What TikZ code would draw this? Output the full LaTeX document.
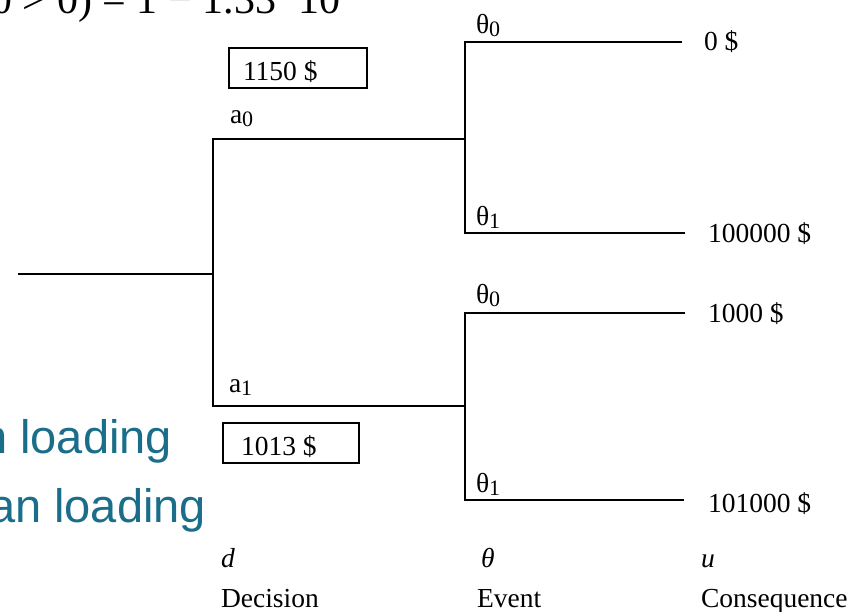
\documentclass[tikz,border=0pt]{standalone}
\usepackage{fontspec}
\setmainfont{Liberation Serif}
\newfontfamily\sansf{Liberation Sans}
\definecolor{tealtxt}{RGB}{26,110,138}
\newcommand\sbs[1]{\raisebox{-0.3ex}{\fontsize{22}{22}\selectfont #1}}
\begin{document}
\begin{tikzpicture}[x=1pt,y=-1pt,line width=2pt,
  lbl/.style={inner sep=0pt,anchor=base west,font=\fontsize{27.5}{30}\selectfont},
  valbox/.style={draw,line width=1.8pt,inner sep=0pt,anchor=north west,minimum height=40pt},
  big/.style={inner sep=0pt,font=\fontsize{42}{46}\selectfont},
  teal/.style={inner sep=0pt,anchor=base east,text=tealtxt,font=\sansf\fontsize{47}{52}\selectfont}]
\useasboundingbox (0,0) rectangle (864,611);
\clip (0,0) rectangle (864,611);
% partial top formula
\node[big,anchor=base east] (fa) at (277,13) {θ > 0) = 1 − 1.33};
\node[big,anchor=base west] (fb) at (297,13) {10};
% partial teal text
\node[teal] (t1) at (173,453) {n loading};
\node[teal] (t2) at (207,522) {an loading};
% tree coordinates
\coordinate (r) at (18,274);
\coordinate (d) at (213,274);
\coordinate (d0) at (213,139);
\coordinate (d1) at (213,406);
\coordinate (e0) at (465,139);
\coordinate (e1) at (465,406);
\coordinate (e0t) at (465,42);
\coordinate (e0b) at (465,233);
\coordinate (e1t) at (465,313);
\coordinate (e1b) at (465,500);
\coordinate (c00) at (682,42);
\coordinate (c01) at (685,233);
\coordinate (c10) at (685,313);
\coordinate (c11) at (684,500);
\draw (r) -- (d);
\draw (e0) -- (d0) -- (d1) -- (e1);
\draw (c00) -- (e0t) -- (e0b) -- (c01);
\draw (c10) -- (e1t) -- (e1b) -- (c11);
% value boxes
\node[valbox,minimum width=138pt] (b0) at (228,47) {};
\node[lbl] (v0) at (242,80) {1150 \$};
\node[valbox,minimum width=136pt] (b1) at (222,422) {};
\node[lbl] (v1) at (240,455) {1013 \$};
% branch labels
\node[lbl] (la0) at (229,123) {a\sbs{0}};
\node[lbl] (la1) at (228,392) {a\sbs{1}};
\node[lbl] (lt00) at (475,33) {θ\sbs{0}};
\node[lbl] (lt01) at (475,225) {θ\sbs{1}};
\node[lbl] (lt10) at (475,303) {θ\sbs{0}};
\node[lbl] (lt11) at (475,492) {θ\sbs{1}};
% consequences
\node[lbl] (u00) at (703,50) {0 \$};
\node[lbl] (u01) at (707,242) {100000 \$};
\node[lbl] (u10) at (707,322) {1000 \$};
\node[lbl] (u11) at (707,512) {101000 \$};
% column captions
\node[lbl,font=\itshape\fontsize{27.5}{30}\selectfont] (sd) at (220,567) {d};
\node[lbl,font=\itshape\fontsize{27.5}{30}\selectfont] (st) at (480,567) {θ};
\node[lbl,font=\itshape\fontsize{27.5}{30}\selectfont] (su) at (700,567) {u};
\node[lbl] (cd) at (220,607) {Decision};
\node[lbl] (ce) at (476,607) {Event};
\node[lbl] (cc) at (700,607) {Consequence};
\end{tikzpicture}
\end{document}
